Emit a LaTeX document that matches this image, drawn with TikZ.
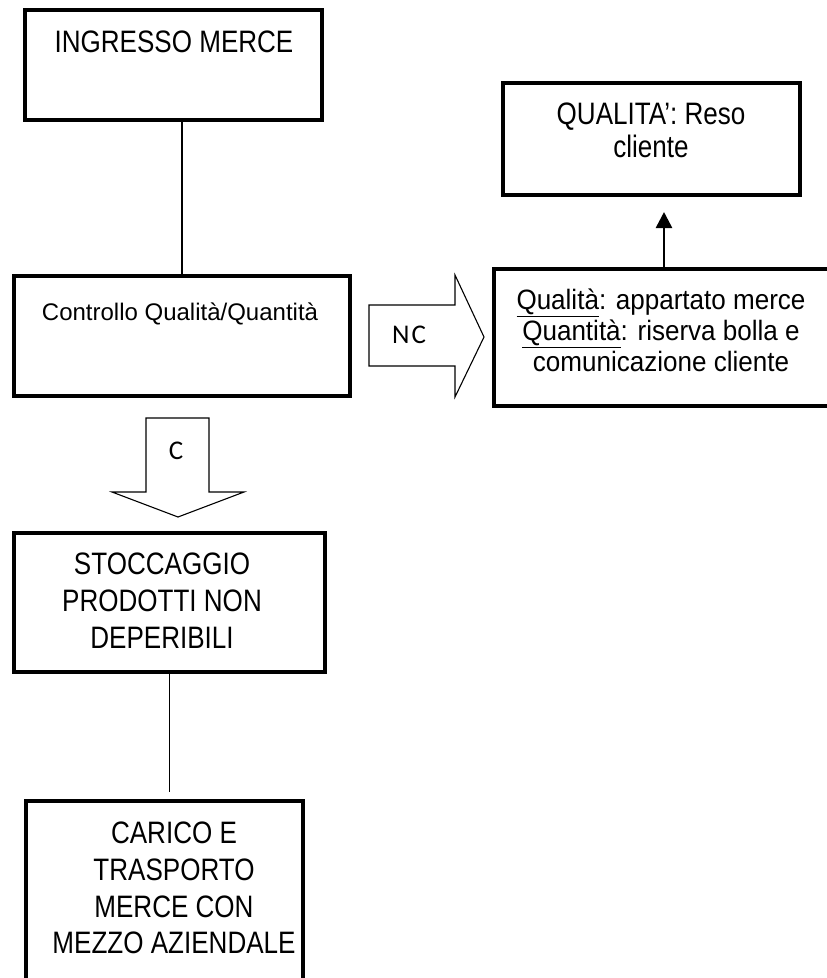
\documentclass[tikz,border=0pt]{standalone}
\usepackage{fontspec}
\setmainfont{Liberation Sans}
\newfontfamily\narrowfont[FakeStretch=0.84]{Liberation Sans}
\newfontfamily\midfont[FakeStretch=0.93]{Liberation Sans}
\newfontfamily\calfont[LetterSpace=8]{Carlito}
\usetikzlibrary{arrows.meta}
\tikzset{
  box/.style={draw, line width=3.6pt, inner sep=0pt, outer sep=0pt},
  upper/.style={inner sep=0pt, align=center, font=\narrowfont\fontsize{31}{36.7}\selectfont},
  conn/.style={line width=1.6pt},
  arr/.style={line width=2.6pt, -{Triangle[length=16pt,width=16pt]}},
  blockarrow/.style={draw, line width=1.1pt, line join=miter},
  lab/.style={inner sep=0pt, font=\calfont\fontsize{27}{30}\selectfont}
}
\begin{document}
\begin{tikzpicture}[x=1pt,y=-1pt]
\useasboundingbox (0,0) rectangle (827,978);

% boxes
\node[box, minimum width=297pt, minimum height=110pt] (b1) at (173.5,65) {};
\node[upper, anchor=base] (t1) at (174,52) {INGRESSO MERCE};

\node[box, minimum width=336pt, minimum height=120pt] (b2) at (182,336) {};
\node[inner sep=0pt, anchor=base, font=\fontsize{24}{28}\selectfont] (t2) at (180,320) {Controllo Qualità/Quantità};

\node[box, minimum width=368pt, minimum height=137pt] (rb) at (678,337.5) {};
\node[inner sep=0pt, align=center, font=\midfont\fontsize{28}{31}\selectfont] (rt) at (661,330)
  {\underline{Qualità}: appartato merce\\\underline{Quantità}: riserva bolla e\\comunicazione cliente};

\node[box, minimum width=297pt, minimum height=112pt] (qb) at (651.5,139) {};
\node[upper, font=\narrowfont\fontsize{31}{33}\selectfont] (qt) at (651,130) {QUALITA’: Reso\\cliente};

\node[box, minimum width=311pt, minimum height=139pt] (b3) at (169.5,602.5) {};
\node[upper] (t3) at (162,600.5) {STOCCAGGIO\\PRODOTTI NON\\DEPERIBILI};

\node[box, minimum width=277pt, minimum height=189pt] (b4) at (164.5,895.5) {};
\node[upper] (t4) at (174,888) {CARICO E\\TRASPORTO\\MERCE CON\\MEZZO AZIENDALE};

% block arrows
\draw[blockarrow] (146,418) -- (209,418) -- (209,492) -- (244,492) -- (178,517) -- (112,492) -- (146,492) -- cycle;
\node[lab] (c) at (176,451) {C};

\draw[blockarrow] (369,305) -- (455,305) -- (455,275) -- (484,337) -- (455,397) -- (455,366) -- (369,366) -- cycle;
\node[lab] (nc) at (409,335) {NC};

% connectors
\draw[conn] (b2.north |- b1.south) -- (b2.north);
\draw[conn, shorten >=9pt] (b3.south) -- (b3.south |- b4.north);
\draw[arr, shorten >=17pt] ([xshift=12.5pt]qb.south |- rb.north) -- ([xshift=12.5pt]qb.south);
\end{tikzpicture}
\end{document}
